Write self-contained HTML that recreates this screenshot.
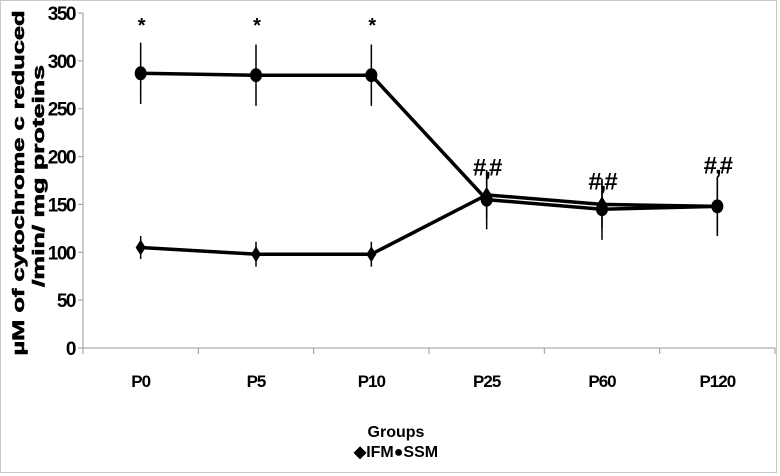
<!DOCTYPE html>
<html><head><meta charset="utf-8"><style>
html,body{margin:0;padding:0;background:#fff}
svg{display:block;font-family:"Liberation Sans",Arial,sans-serif}
</style></head><body>
<svg id="chart" width="780" height="476" viewBox="0 0 780 476">
<rect x="0.5" y="0.5" width="776" height="472" fill="#fff" stroke="#c8c8c8"/>
<g id="axes"></g>
<g id="series"></g>
<text transform="rotate(-90)" text-anchor="middle" font-size="17" font-weight="bold" stroke="#000" stroke-width="0.6"><tspan x="-183" y="24" textLength="345" lengthAdjust="spacingAndGlyphs">µM of cytochrome c reduced</tspan><tspan x="-176" y="44" textLength="222" lengthAdjust="spacingAndGlyphs">/min/ mg proteins</tspan></text>
<text x="396" y="437" text-anchor="middle" font-size="16" font-weight="bold">Groups</text>
<text x="396" y="457" text-anchor="middle" font-size="16" font-weight="bold"><tspan>◆IFM</tspan><tspan>●SSM</tspan></text>
</svg>
<script>
const categories=["P0","P5","P10","P25","P60","P120"];
const ssmValues=[287,285,285,155,145,148];
const ssmErrors=[32,32,32,31,32,31];
const ifmValues=[105,98,98,160,150,148];
const ifmErrors=[12,13,13,25,25,30];
const yTicks=[0,50,100,150,200,250,300,350];
const annotations=["*","*","*","#,#","#,#","#,#"];
const annotationValues=[345,345,345,195,180,197];

const NS="http://www.w3.org/2000/svg";
const x0=83,x1=775,y0=348,yTop=13;
const band=(x1-x0)/categories.length;
const xs=i=>x0+band*(i+0.5);
const ys=v=>y0-(v/350)*(y0-yTop);
function mk(tag,attrs,parent){const e=document.createElementNS(NS,tag);for(const k in attrs)e.setAttribute(k,attrs[k]);parent.appendChild(e);return e;}
const ax=document.getElementById('axes'),sg=document.getElementById('series');
let e=mk('line',{x1:x0,y1:ys(0),x2:x0,y2:ys(350),stroke:'#999'},ax);


e=mk('line',{x1:x0,y1:y0,x2:x1,y2:y0,stroke:'#999'},ax);


yTicks.forEach(t=>{
  let l=mk('line',{x1:x0-5,y1:ys(t),x2:x0,y2:ys(t),stroke:'#999'},ax);
  
  
  let tx=mk('text',{x:x0-8,y:ys(t)+7,'text-anchor':'end','font-size':19,'font-weight':'bold','letter-spacing':-1.5},ax);
  tx.textContent=t;
  
  
});
for(let i=0;i<=categories.length;i++){
  let l=mk('line',{x1:x0+band*i,y1:y0,x2:x0+band*i,y2:y0+6,stroke:'#999'},ax);
  
  
}
categories.forEach((c,i)=>{
  let tx=mk('text',{x:xs(i),y:y0+39,'text-anchor':'middle','font-size':17,'font-weight':'bold','letter-spacing':-1},ax);
  tx.textContent=c;
  
  
  let an=mk('text',{x:xs(i),y:ys(annotationValues[i])+14,'text-anchor':'middle','font-size':annotations[i]=='*'?20:24,'font-weight':'bold','letter-spacing':-2},ax);
  an.textContent=annotations[i];
  
  
});
function drawSeries(vals,errs,name,shape){
  vals.forEach((v,i)=>{
    let l=mk('line',{x1:xs(i),y1:ys(v+errs[i]),x2:xs(i),y2:ys(v-errs[i]),stroke:'#000','stroke-width':1.5},sg);
    
    
  });
  let p=mk('polyline',{points:vals.map((v,i)=>xs(i)+','+ys(v)).join(' '),fill:'none',stroke:'#000','stroke-width':3.5},sg);
  
  
  vals.forEach((v,i)=>{
    let m;
    if(shape=='circle')m=mk('ellipse',{cx:xs(i),cy:ys(v),rx:6,ry:7,fill:'#000'},sg);
    else{const x=xs(i),y=ys(v);m=mk('polygon',{points:`${x},${y-8} ${x+5},${y} ${x},${y+8} ${x-5},${y}`,fill:'#000'},sg);}
    
    
  });
}
drawSeries(ifmValues,ifmErrors,'ifm','diamond');
drawSeries(ssmValues,ssmErrors,'ssm','circle');
</script>
</body></html>
